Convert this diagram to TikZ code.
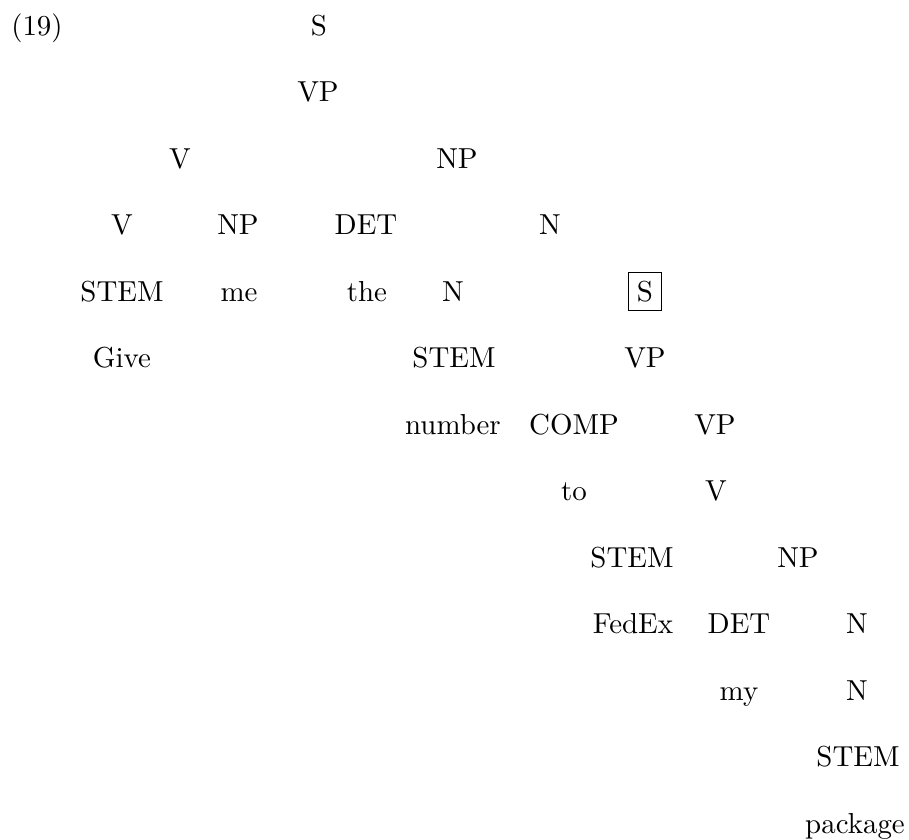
\documentclass[tikz,border=0pt]{standalone}
\begin{document}
\begin{tikzpicture}[x=0.3546pt,y=-0.3546pt,
  lbl/.style={anchor=base,inner sep=0pt,font=\fontsize{10.25}{12}\selectfont},
  boxed/.style={anchor=base,draw,inner sep=3pt,line width=0.4pt,font=\fontsize{10.25}{12}\selectfont}]
\useasboundingbox (0,0) rectangle (909,840);
\def\ra{35}\def\rb{101.5}\def\rc{168}\def\rd{234.5}\def\re{301}\def\rf{367.5}
\def\rg{434}\def\rh{500.5}\def\ri{567}\def\rj{633.5}\def\rk{700}\def\rl{766.5}\def\rm{833}
\node[lbl] (ex) at (37,\ra) {(19)};
\node[lbl] (s1) at (319,\ra) {S};
\node[lbl] (vp1) at (318,\rb) {VP};
\node[lbl] (v1) at (180,\rc) {V};
\node[lbl] (np1) at (457,\rc) {NP};
\node[lbl] (v2) at (122,\rd) {V};
\node[lbl] (np2) at (238,\rd) {NP};
\node[lbl] (det1) at (366,\rd) {DET};
\node[lbl] (n1) at (550,\rd) {N};
\node[lbl] (stem1) at (122,\re) {STEM};
\node[lbl] (me) at (239,\re) {me};
\node[lbl] (the) at (367,\re) {the};
\node[lbl] (n2) at (453,\re) {N};
\node[lbl] (give) at (122,\rf) {Give};
\node[lbl] (stem2) at (454,\rf) {STEM};
\node[lbl] (number) at (453,\rg) {number};
\node[lbl] (comp) at (574,\rg) {COMP};
\node[lbl] (to) at (574,\rh) {to};
\node[lbl] (stem3) at (632,\ri) {STEM};
\node[lbl] (fedex) at (633,\rj) {FedEx};
\node[lbl] (det2) at (739,\rj) {DET};
\node[lbl] (my) at (739,\rk) {my};
\node[lbl] (n3) at (857,\rj) {N};
\node[lbl] (n4) at (857,\rk) {N};
\node[lbl] (stem4) at (858,\rl) {STEM};
\node[lbl] (package) at (855,\rm) {package};
\node[boxed] (s2) at (645,\re) {S};
\node[lbl] (vp2) at (645,\rf) {VP};
\node[lbl] (vp3) at (715,\rg) {VP};
\node[lbl] (v3) at (716,\rh) {V};
\node[lbl] (np3) at (798,\ri) {NP};
\end{tikzpicture}
\end{document}
